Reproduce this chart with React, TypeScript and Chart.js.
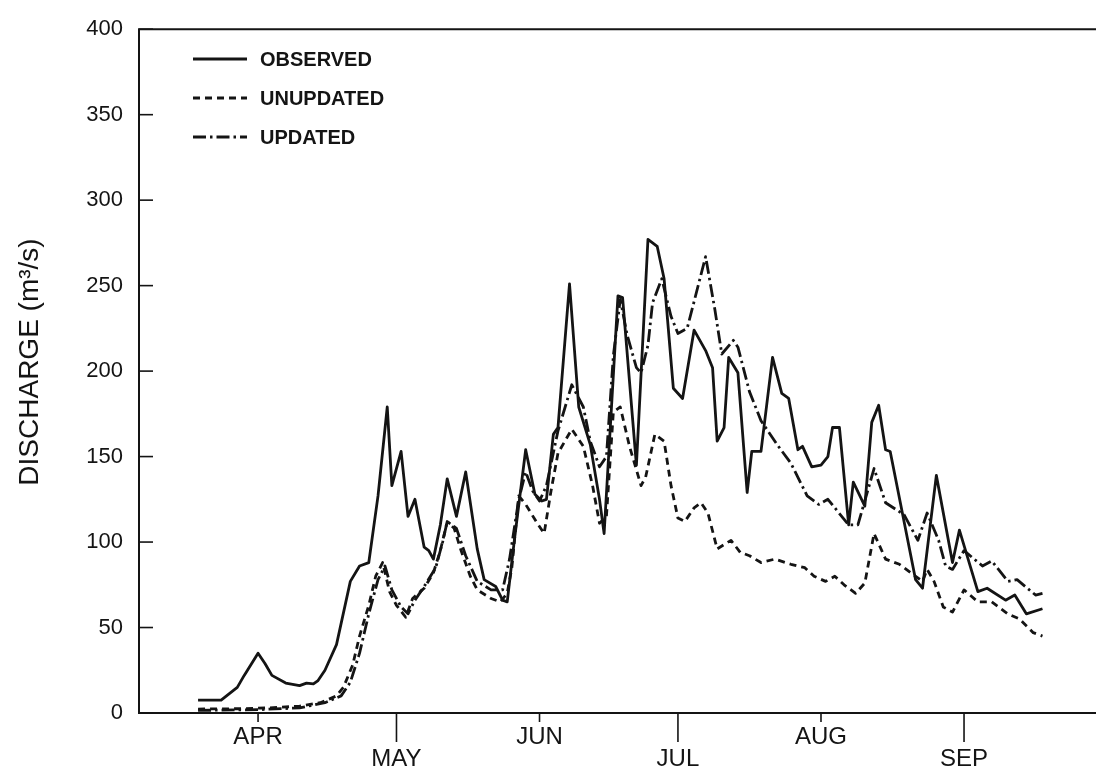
import React, { useEffect, useRef } from "react";
import { Chart, registerables } from "chart.js";

Chart.register(...registerables);

// Day index 0 = Mar 19 (first plotted day); month ticks fall on the 1st of each month
const monthLabels = ["APR", "MAY", "JUN", "JUL", "AUG", "SEP"];
const monthDays = [13, 43, 74, 104, 135, 166];
const yTicks = [0, 50, 100, 150, 200, 250, 300, 350, 400];

const seriesNames = ["OBSERVED", "UNUPDATED", "UPDATED"];

const obsDays = [0, 5, 8.5, 10, 13, 14.5, 16, 19, 22, 23.5, 25, 26, 27.5, 30, 33, 35, 37, 39, 41, 42, 44, 45.5, 47, 49, 50, 51, 52.5, 54, 56, 58, 60.5, 62, 64.5, 66, 67, 68.5, 71, 73, 74.5, 75.5, 77, 78, 80.5, 82.5, 85, 87, 88, 91, 92, 95, 97.5, 99.5, 101, 103, 105, 107.5, 110, 111.5, 112.5, 114, 115, 117, 119, 120, 122, 124.5, 126.5, 128, 130, 131, 133, 135, 136.5, 137.5, 139, 141, 142, 144.5, 146, 147.5, 149, 150, 155.5, 157, 160, 163.5, 165, 169, 171, 175, 177, 179.5, 183];
const obsValues = [7.5, 7.5, 15, 22, 35, 29, 22, 17.5, 16, 17.5, 17, 19, 25, 40, 77, 86, 88, 127, 179, 133, 153, 115, 125, 97, 95, 90, 110, 137, 115, 141, 96, 78, 74, 66, 65, 100, 154, 128, 124, 125, 163, 167, 251, 179, 157, 125, 105, 244, 243, 145, 277, 273, 254, 190, 184, 224, 212, 202, 159, 167, 208, 199, 129, 153, 153, 208, 187, 184, 154, 156, 144, 145, 150, 167, 167, 110, 135, 121, 170, 180, 154, 153, 78, 73, 139, 88, 107, 71, 73, 66, 69, 58, 61];

const unDays = [0, 9, 15.5, 22, 26.5, 30, 31.5, 33.5, 35, 37, 38.5, 40, 41.5, 43, 45, 46.5, 49, 51, 52.5, 54, 55.5, 57, 59, 60.5, 63.5, 65.5, 67, 68, 69.5, 71, 73.5, 75, 76.5, 78, 81, 83.5, 85.5, 87, 88.5, 90, 91.5, 93.5, 96, 97, 99, 101, 102.5, 104, 105.5, 107.5, 109, 110.5, 112.5, 115.5, 117.5, 119.5, 122, 125, 128.5, 131.5, 133.5, 136, 138, 140, 142.5, 144.5, 146.5, 149, 152, 155, 157, 158, 159.5, 161.5, 163.5, 166, 169, 172, 175.5, 178, 181, 183];
const unValues = [2.3, 2.5, 3, 4, 6, 10, 15, 28, 45, 63, 80, 88, 71, 63, 56, 67, 73, 82, 95, 112, 108, 95, 80, 72, 67, 65, 70, 85, 127, 122, 111, 105, 130, 152, 166, 156, 133, 111, 115, 176, 179, 156, 133, 138, 163, 159, 133, 114, 112, 120, 123, 117, 96, 101, 94, 92, 88, 90, 87, 85, 80, 77, 80, 75, 70, 76, 105, 90, 87, 81, 77, 84, 77, 62, 59, 72, 65, 65, 58, 55, 47, 45];

const upDays = [0, 13.5, 22, 27.5, 31, 33, 35, 37, 39, 40.5, 42, 44, 45.5, 47, 49, 51.5, 53, 54, 56, 58, 60.5, 63.5, 66, 67.5, 69.5, 71, 72.5, 74, 75.5, 78, 81, 83.5, 85, 87, 88.5, 90, 91.5, 93, 95, 96, 97.5, 98.5, 100.5, 102.5, 104, 106, 110, 112, 113.5, 116, 117, 119.5, 122, 125.5, 128.5, 132, 134.5, 136.5, 141, 143, 146.5, 149, 153, 156, 158, 160.5, 162, 163.5, 166, 170, 172, 175.5, 177.5, 181.5, 183];
const upValues = [1.5, 2, 3, 6, 10, 18, 35, 58, 78, 86, 72, 62, 58, 66, 74, 85, 100, 112, 108, 92, 77, 72, 72, 90, 125, 141, 130, 124, 133, 165, 192, 179, 159, 144, 150, 209, 242, 221, 202, 199, 215, 240, 254, 232, 222, 225, 267, 236, 210, 218, 214, 188, 171, 157, 146, 127, 122, 125, 110, 110, 143, 123, 116, 101, 117, 101, 86, 84, 95, 86, 89, 77, 78, 69, 70];

const INK = "#141414";
const FONT = "'Liberation Sans', Arial, Helvetica, sans-serif";

const toPoints = (days: number[], vals: number[]) =>
  days.map((d, i) => ({ x: d, y: vals[i] }));

const framePlugin = {
  id: "frameAndText",
  afterDraw(chart: any) {
    const { ctx, chartArea: a, scales } = chart;
    const xs = scales.x;
    const ys = scales.y;
    ctx.save();
    ctx.strokeStyle = INK;
    ctx.fillStyle = INK;
    ctx.lineWidth = 2;
    ctx.setLineDash([]);
    // frame: top, left, bottom (right side runs off the page)
    ctx.beginPath();
    ctx.moveTo(a.right + 2, a.top);
    ctx.lineTo(a.left, a.top);
    ctx.lineTo(a.left, a.bottom);
    ctx.lineTo(a.right + 2, a.bottom);
    ctx.stroke();

    // inward y ticks
    ctx.lineWidth = 1.6;
    yTicks.forEach((v) => {
      const py = ys.getPixelForValue(v);
      ctx.beginPath();
      ctx.moveTo(a.left, py);
      ctx.lineTo(a.left + 14, py);
      ctx.stroke();
    });

    // month ticks and staggered labels
    ctx.font = `24px ${FONT}`;
    ctx.textAlign = "center";
    ctx.textBaseline = "middle";
    monthDays.forEach((d, i) => {
      const px = xs.getPixelForValue(d);
      const low = i % 2 === 1;
      ctx.beginPath();
      ctx.moveTo(px, a.bottom);
      ctx.lineTo(px, a.bottom + (low ? 29 : 9));
      ctx.stroke();
      ctx.fillText(monthLabels[i], px, a.bottom + (low ? 46 : 24));
    });

    // y-axis title
    ctx.save();
    ctx.translate(30, 362);
    ctx.rotate(-Math.PI / 2);
    ctx.font = `28px ${FONT}`;
    ctx.fillText("DISCHARGE (m³/s)", 0, 0);
    ctx.restore();

    // legend inside the plot
    const rows = [59, 98, 137];
    chart.data.datasets.forEach((ds: any, i: number) => {
      const yy = rows[i];
      ctx.lineWidth = ds.borderWidth;
      ctx.setLineDash(ds.borderDash || []);
      ctx.beginPath();
      ctx.moveTo(193, yy);
      ctx.lineTo(247, yy);
      ctx.stroke();
      ctx.setLineDash([]);
      ctx.font = `bold 20px ${FONT}`;
      ctx.textAlign = "left";
      ctx.fillText(ds.label, 260, yy + 1);
    });
    ctx.restore();
  },
};

export default function App() {
  const ref = useRef<HTMLCanvasElement | null>(null);
  useEffect(() => {
    if (!ref.current) return;
    const chart = new Chart(ref.current, {
      type: "line",
      data: {
        datasets: [
          {
            label: seriesNames[0],
            data: toPoints(obsDays, obsValues),
            borderColor: INK,
            borderWidth: 2.8,
            borderDash: [],
          },
          {
            label: seriesNames[1],
            data: toPoints(unDays, unValues),
            borderColor: INK,
            borderWidth: 2.8,
            borderDash: [7, 5],
          },
          {
            label: seriesNames[2],
            data: toPoints(upDays, upValues),
            borderColor: INK,
            borderWidth: 2.8,
            borderDash: [13, 4, 2.5, 4],
          },
        ],
      },
      options: {
        animation: false,
        responsive: true,
        maintainAspectRatio: false,
        layout: { padding: { top: 18, right: 0, bottom: 59, left: 0 } },
        elements: {
          point: { radius: 0, hoverRadius: 0 },
          line: { tension: 0, borderJoinStyle: "round", fill: false },
        },
        plugins: {
          legend: { display: false },
          tooltip: { enabled: false },
        },
        events: [],
        scales: {
          x: { type: "linear", min: -12.8, max: 194.6, display: false },
          y: {
            type: "linear",
            min: 0,
            max: 400,
            afterFit: (s: any) => {
              s.width = 139;
            },
            afterBuildTicks: (s: any) => {
              s.ticks = yTicks.map((v) => ({ value: v }));
            },
            ticks: {
              color: INK,
              padding: 16,
              font: { family: FONT, size: 22 },
            },
            grid: { display: false, drawTicks: false },
            border: { display: false },
          },
        },
      },
      plugins: [framePlugin],
    } as any);
    return () => chart.destroy();
  }, []);

  return (
    <div
      style={{
        position: "fixed",
        left: 0,
        top: 0,
        width: 1096,
        height: 772,
        background: "#fff",
      }}
    >
      <canvas ref={ref} />
    </div>
  );
}
